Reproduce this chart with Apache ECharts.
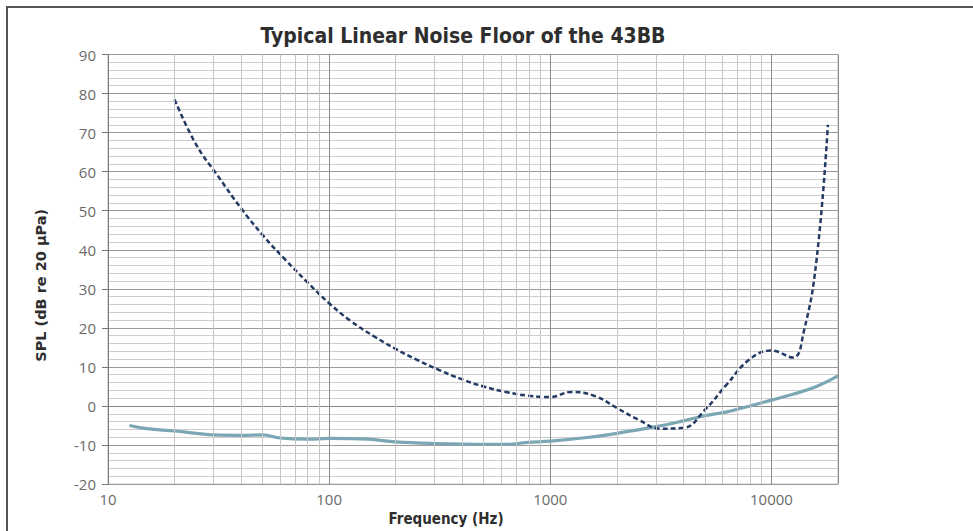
<!DOCTYPE html>
<html><head><meta charset="utf-8">
<script src="https://cdn.jsdelivr.net/npm/echarts@6/dist/echarts.min.js"></script>
<style>html,body{margin:0;padding:0;background:#fff}#c{width:973px;height:531px}</style>
</head><body><div id="c"></div>
<script>
const titleText = 'Typical Linear Noise Floor of the 43BB';
const xAxisName = 'Frequency (Hz)';
const yAxisName = 'SPL (dB re 20 µPa)';

// Solid curve (noise floor)
const solidFreq = [12.5, 15, 20, 25, 30, 40, 50, 60, 80, 100, 150, 200, 300, 500, 630, 800, 1000, 1500, 2000, 3000, 4000, 5000, 6300, 8000, 10000, 12500, 16000, 20000];
const solidSpl  = [-5.0, -5.8, -6.4, -7.0, -7.4, -7.5, -7.4, -8.2, -8.5, -8.3, -8.5, -9.2, -9.6, -9.8, -9.8, -9.3, -9.0, -8.0, -7.0, -5.3, -3.8, -2.5, -1.5, 0.0, 1.5, 3.0, 5.0, 7.7];

// Dashed curve
const dashFreq = [20, 25, 31.5, 40, 50, 63, 80, 100, 125, 160, 200, 250, 315, 400, 500, 630, 800, 1000, 1250, 1600, 2000, 2500, 3150, 4000, 5000, 6300, 8000, 10000, 12500, 14000, 16000, 18000];
const dashSpl  = [78.5, 67.0, 58.8, 50.6, 43.8, 37.6, 31.6, 26.3, 21.8, 17.8, 14.6, 11.8, 9.2, 6.8, 5.0, 3.6, 2.6, 2.3, 3.6, 2.5, -0.5, -3.5, -5.8, -5.6, -1.0, 5.6, 12.0, 14.2, 12.4, 19.0, 37.5, 72.0];

// Minor vertical grid lines (log decades)
const minorFreqLines = [20,30,40,50,60,70,80,90,200,300,400,500,600,700,800,900,2000,3000,4000,5000,6000,7000,8000,9000];

const condensed = "'Liberation Sans Narrow', 'DejaVu Sans Condensed', sans-serif";

const chart = echarts.init(document.getElementById('c'), null, {renderer: 'svg'});
chart.setOption({
  animation: false,
  backgroundColor: '#ffffff',
  title: {
    text: titleText, left: 458, top: 20, textAlign: 'center',
    textStyle: {fontFamily: condensed, fontWeight: 'bold', fontSize: 21, color: '#2e2e2e'}
  },
  graphic: [{
    type: 'rect', shape: {x: 7, y: 7, width: 1100, height: 1000},
    style: {fill: 'none', stroke: '#555', lineWidth: 2}, silent: true
  }],
  grid: {left: 108, right: 135, top: 54.5, bottom: 44.5, show: true, borderColor: '#bdbdbd', borderWidth: 1},
  xAxis: {
    type: 'log', logBase: 10, min: 10, max: 20000,
    name: xAxisName, nameLocation: 'middle', nameGap: 19,
    nameTextStyle: {fontFamily: condensed, fontWeight: 'bold', fontSize: 15, color: '#2e2e2e', padding: [0, 54, 0, 0]},
    axisLine: {show: true, lineStyle: {color: '#888', width: 1}},
    axisTick: {show: false},
    axisLabel: {showMaxLabel: false, margin: 7, fontFamily: "'Open Sans', sans-serif", fontSize: 15, color: '#6a6a6a', formatter: v => String(v)},
    splitLine: {show: true, lineStyle: {color: '#8c8c8c', width: 1}},
    minorTick: {show: false}, minorSplitLine: {show: false}
  },
  yAxis: {
    type: 'value', min: -20, max: 90, interval: 10,
    name: yAxisName, nameLocation: 'middle', nameGap: 60, nameRotate: 90,
    nameTextStyle: {fontFamily: "'DejaVu Sans', sans-serif", fontWeight: 'bold', fontSize: 14.5, color: '#2e2e2e', padding: [0, 32, 0, 0]},
    axisLine: {show: true, lineStyle: {color: '#777', width: 1}},
    axisTick: {show: true, length: 6, lineStyle: {color: '#777'}},
    axisLabel: {margin: 12, fontFamily: "'Open Sans', sans-serif", fontSize: 15, color: '#6a6a6a'},
    splitLine: {show: true, lineStyle: {color: '#9a9a9a', width: 1}},
    minorTick: {show: false, splitNumber: 5},
    minorSplitLine: {show: true, lineStyle: {color: '#cdcdcd', width: 1}}
  },
  series: [
    {
      type: 'line', data: [], z: 1, silent: true,
      markLine: {
        silent: true, symbol: ['none', 'none'], label: {show: false},
        lineStyle: {color: '#c6c6c6', width: 1, type: 'solid'},
        emphasis: {disabled: true},
        data: minorFreqLines.map(v => ({xAxis: v}))
      }
    },
    {
      name: 'Noise floor', type: 'line', z: 3, showSymbol: false, smooth: 0.4,
      data: solidFreq.map((f, i) => [f, solidSpl[i]]),
      lineStyle: {color: '#7ba6b4', width: 3.2}
    },
    {
      name: 'Dashed', type: 'line', z: 4, showSymbol: false, smooth: 0.45,
      data: dashFreq.map((f, i) => [f, dashSpl[i]]),
      lineStyle: {color: '#233b64', width: 2.5, type: [5, 3]}
    }
  ]
});
</script>
</body></html>
